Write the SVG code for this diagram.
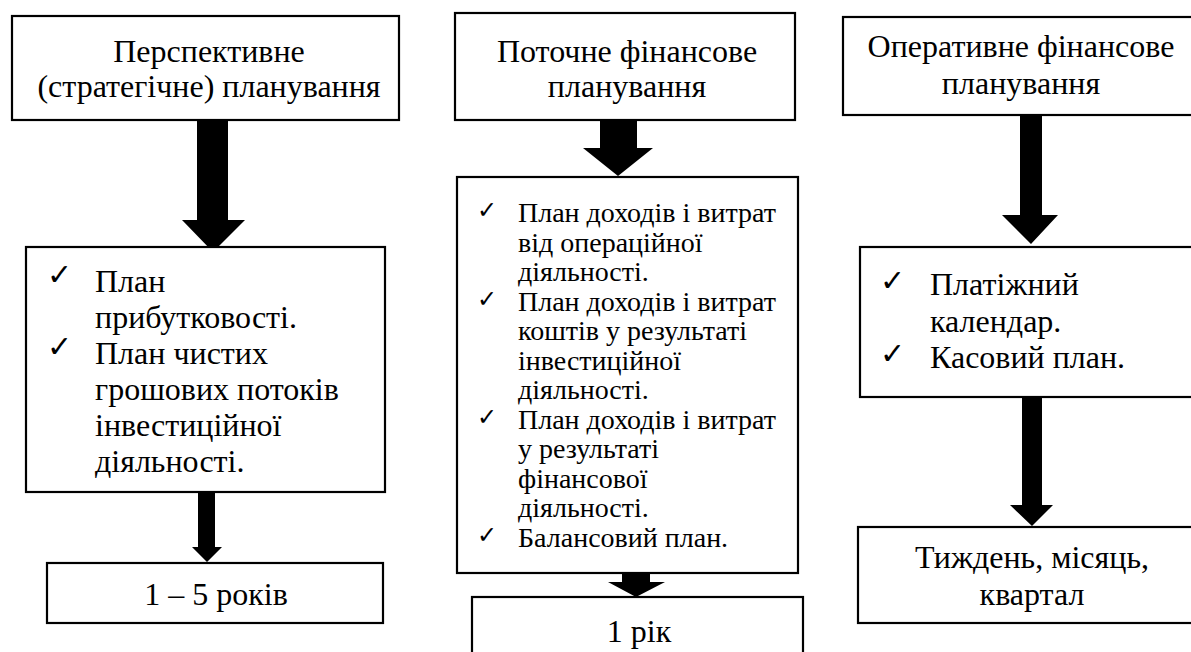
<svg xmlns="http://www.w3.org/2000/svg" width="1191" height="652" viewBox="0 0 1191 652">
<style>
.box{fill:#fff;stroke:#000;stroke-width:2.2}
.t{font-family:'Liberation Serif','Times New Roman',serif;fill:#000}
.h{font-size:32px;text-anchor:middle}
.l{font-size:32px}
.m{font-size:28px}
.c{font-family:'DejaVu Sans',sans-serif;font-weight:bold;fill:#000}
.cl{font-size:30px}
.cm{font-size:24px}
.arr{fill:#000}
</style>
<rect width="1191" height="652" fill="#fff"/>
<g id="connectors">
<polygon class="arr" points="197,121 228,121 228,220 245,220 213,252 182,220 197,220"/>
<polygon class="arr" points="198,492 215,492 215,547 222,547 207,562 192,547 198,547"/>
<polygon class="arr" points="600,121 637,121 637,148 653,148 618,176 583,148 600,148"/>
<polygon class="arr" points="622,573 650,573 650,582 665,582 636,597 608,582 622,582"/>
<polygon class="arr" points="1020,115 1042,115 1042,215 1058,215 1031,244 1002,215 1020,215"/>
<polygon class="arr" points="1022,397 1042,397 1042,505 1053,505 1032,526 1010,505 1022,505"/>
</g>
<g id="n-persp">
<rect class="box" x="12" y="16" width="387" height="104"/>
<text class="t h" x="209" y="62">Перспективне</text>
<text class="t h" x="209" y="97">(стратегічне) планування</text>
</g>
<g id="n-persp-list">
<rect class="box" x="26" y="247" width="359" height="245"/>
<text class="c cl" x="47" y="285">✓</text>
<text class="c cl" x="47" y="357">✓</text>
<text class="t l"><tspan x="95" y="292">План</tspan><tspan x="95" y="328">прибутковості.</tspan><tspan x="95" y="364">План чистих</tspan><tspan x="95" y="400">грошових потоків</tspan><tspan x="95" y="436">інвестиційної</tspan><tspan x="95" y="472">діяльності.</tspan></text>
</g>
<g id="n-persp-term">
<rect class="box" x="47" y="563" width="336" height="60"/>
<text class="t h" x="216" y="605">1 – 5 років</text>
</g>
<g id="n-current">
<rect class="box" x="455" y="13" width="340" height="107"/>
<text class="t h" x="627" y="62">Поточне фінансове</text>
<text class="t h" x="627" y="97">планування</text>
</g>
<g id="n-current-list">
<rect class="box" x="457" y="177" width="341" height="396"/>
<text class="c cm" x="477" y="218">✓</text>
<text class="c cm" x="477" y="306.5">✓</text>
<text class="c cm" x="477" y="424.5">✓</text>
<text class="c cm" x="477" y="542.5">✓</text>
<text class="t m"><tspan x="518" y="222">План доходів і витрат</tspan><tspan x="518" y="251.5">від операційної</tspan><tspan x="518" y="281">діяльності.</tspan><tspan x="518" y="310.5">План доходів і витрат</tspan><tspan x="518" y="340">коштів у результаті</tspan><tspan x="518" y="369.5">інвестиційної</tspan><tspan x="518" y="399">діяльності.</tspan><tspan x="518" y="428.5">План доходів і витрат</tspan><tspan x="518" y="458">у результаті</tspan><tspan x="518" y="487.5">фінансової</tspan><tspan x="518" y="517">діяльності.</tspan><tspan x="518" y="546.5">Балансовий план.</tspan></text>
</g>
<g id="n-current-term">
<rect class="box" x="472" y="597" width="331" height="70"/>
<text class="t h" x="639" y="642">1 рік</text>
</g>
<g id="n-oper">
<rect class="box" x="843" y="17" width="360" height="98"/>
<text class="t h" x="1021" y="57">Оперативне фінансове</text>
<text class="t h" x="1021" y="94">планування</text>
</g>
<g id="n-oper-list">
<rect class="box" x="860" y="247" width="345" height="150"/>
<text class="c cl" x="880" y="291">✓</text>
<text class="c cl" x="880" y="364">✓</text>
<text class="t l"><tspan x="930" y="295">Платіжний</tspan><tspan x="930" y="332">календар.</tspan><tspan x="930" y="368">Касовий план.</tspan></text>
</g>
<g id="n-oper-term">
<rect class="box" x="858" y="527" width="345" height="96"/>
<text class="t h" x="1032" y="568">Тиждень, місяць,</text>
<text class="t h" x="1032" y="605">квартал</text>
</g>
</svg>
